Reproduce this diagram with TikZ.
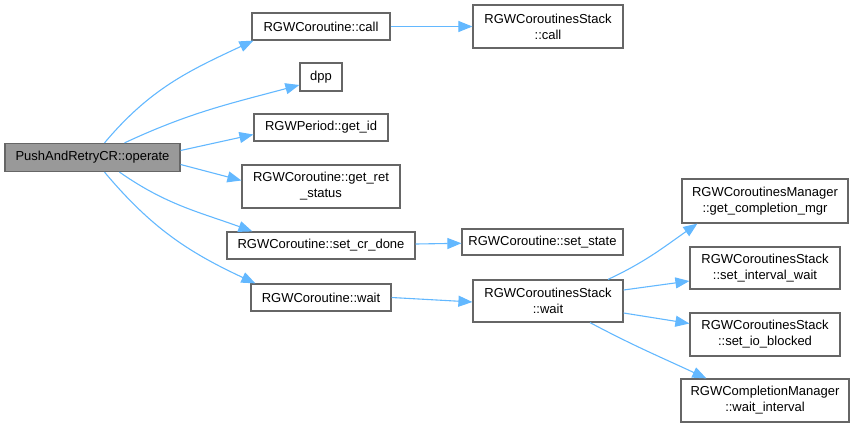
\documentclass[tikz,border=0pt]{standalone}
\usepackage{fontspec}
\setmainfont{Liberation Sans}
\usepackage{tikz}
\usetikzlibrary{arrows.meta}
\definecolor{edgeblue}{HTML}{63B8FF}
\definecolor{boxgray}{HTML}{666666}
\definecolor{maingray}{HTML}{999999}
\def\fn{\fontsize{13}{16}\selectfont}

\begin{document}
\begin{tikzpicture}[x=1pt,y=-1pt,
  fbox/.style={draw=boxgray,line width=1.2pt,fill=white,inner sep=0pt,align=center,font=\fn},
  call/.style={draw=edgeblue,line width=1.1pt,-{Triangle[length=14pt,width=11pt]}}]
\useasboundingbox (0,0) rectangle (855,428);

\node[fbox,fill=maingray,minimum width=175,minimum height=28] (operate) at (92.5,157.5) {PushAndRetryCR::operate};

\node[fbox,minimum width=138,minimum height=27] (crcall) at (321,26.5) {RGWCoroutine::call};
\node[fbox,minimum width=150,minimum height=43] (stcall) at (548,26.5) {RGWCoroutinesStack\\::call};
\node[fbox,minimum width=42,minimum height=28] (dpp) at (321,77) {dpp};
\node[fbox,minimum width=134,minimum height=27] (getid) at (321,127.5) {RGWPeriod::get\_id};
\node[fbox,minimum width=158,minimum height=43] (getret) at (321,186.5) {RGWCoroutine::get\_ret\\\_status};
\node[fbox,minimum width=188,minimum height=27] (crdone) at (321,245.5) {RGWCoroutine::set\_cr\_done};
\node[fbox,minimum width=161,minimum height=26] (setstate) at (542.5,242) {RGWCoroutine::set\_state};
\node[fbox,minimum width=140,minimum height=27] (crwait) at (321,297.5) {RGWCoroutine::wait};
\node[fbox,minimum width=150,minimum height=42] (stwait) at (548,301) {RGWCoroutinesStack\\::wait};

\node[fbox,minimum width=166,minimum height=44] (getmgr) at (765,201) {RGWCoroutinesManager\\::get\_completion\_mgr};
\node[fbox,minimum width=150,minimum height=42] (setiw) at (765,268) {RGWCoroutinesStack\\::set\_interval\_wait};
\node[fbox,minimum width=150,minimum height=43] (setio) at (765,334.5) {RGWCoroutinesStack\\::set\_io\_blocked};
\node[fbox,minimum width=168,minimum height=43] (waitint) at (765,400.5) {RGWCompletionManager\\::wait\_interval};

% from operate
\draw[call] ([xshift=12]operate.north) to[out=50,in=205] ([xshift=2]crcall.south west);
\draw[call] ([xshift=32]operate.north) to[out=25,in=195] ([yshift=-8]dpp.west);
\draw[call] ([yshift=7]operate.east) to ([yshift=-7]getid.west);
\draw[call] ([yshift=-7]operate.east) to ([yshift=6]getret.west);
\draw[call] ([xshift=27]operate.south) to[out=-35,in=160] ([xshift=26]crdone.north west);
\draw[call] ([xshift=12]operate.south) to[out=-50,in=155] ([xshift=5]crwait.north west);

\draw[call] (crcall) to (stcall);
\draw[call] (crdone) to (setstate);
\draw[call] (crwait.east) to ([yshift=-1]stwait.west);

% from stack wait
\draw[call] ([xshift=60]stwait.north) to[out=25,in=215] ([xshift=16]getmgr.south west);
\draw[call] ([yshift=11]stwait.east) to ([yshift=-13]setiw.west);
\draw[call] ([yshift=-12]stwait.east) to ([yshift=11]setio.west);
\draw[call] ([xshift=42]stwait.south) to[out=-28,in=155] ([xshift=26]waitint.north west);
\end{tikzpicture}
\end{document}
